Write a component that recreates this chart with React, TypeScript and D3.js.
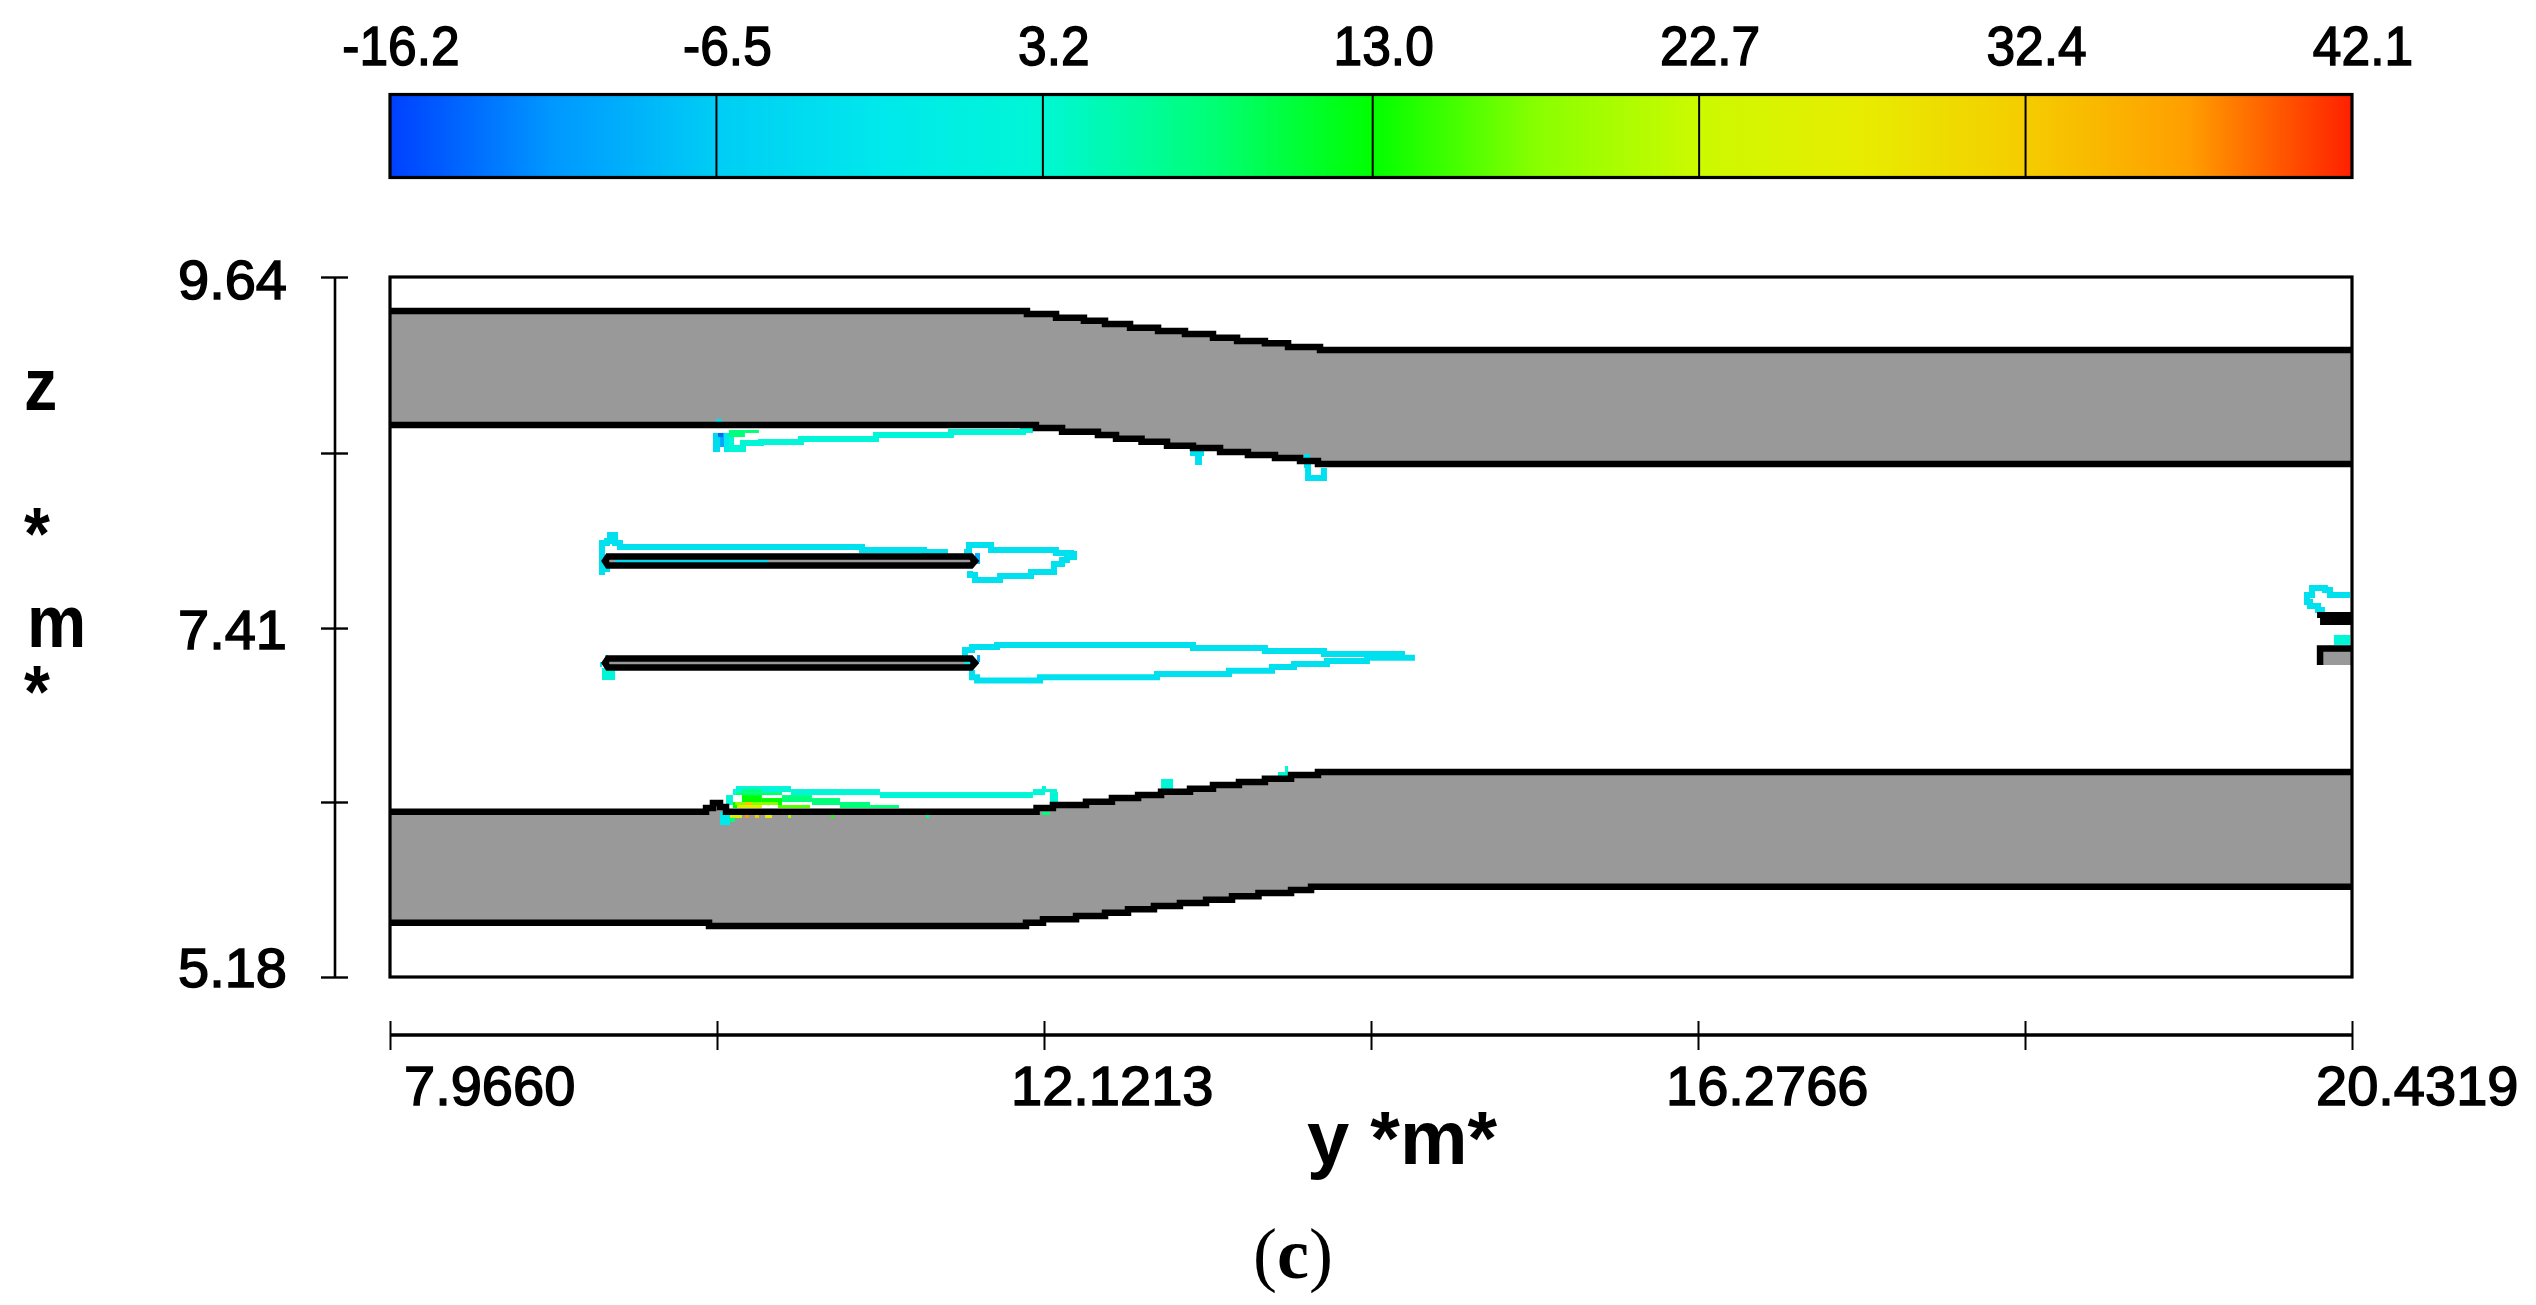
import * as d3 from 'd3';
import {useEffect, useRef} from 'react';

type Pt = [number, number];

const colorTicks = [-16.2, -6.5, 3.2, 13.0, 22.7, 32.4, 42.1];
const colorDomain = [-16.2, -11.35, -6.5, -1.65, 3.2, 8.1, 13, 17.85, 22.7, 27.55, 32.4, 37.25, 42.1];
const colorRange = ['#0040ff', '#0098ff', '#00cdf5', '#00e8ec', '#00f7d5', '#00ff78', '#00ff00', '#88ff00', '#ccfa00', '#e8ec00', '#f5cc00', '#ff9e00', '#ff2000'];

const yExtent = [7.966, 20.4319];
const zExtent = [5.2053, 9.64];
const yTicks = [7.966, 10.0437, 12.1213, 14.199, 16.2766, 18.3543, 20.4319];
const yTickLabels = [7.966, 12.1213, 16.2766, 20.4319];
const zTicks = [9.64, 8.525, 7.416, 6.314, 5.2053];
const zLabelTicks = [9.64, 7.416, 5.2053];
const zLabelTexts = ['9.64', '7.41', '5.18'];

// wall outlines, each point starts a flat run (step-after)
const upperWallTop: Pt[] = [[7.966, 9.425], [12.013, 9.406], [12.198, 9.382], [12.375, 9.363], [12.509, 9.342], [12.668, 9.319], [12.846, 9.298], [13.017, 9.279], [13.195, 9.255], [13.348, 9.234], [13.525, 9.22], [13.672, 9.196], [13.875, 9.177], [20.432, 9.177]];
const upperWallBottom: Pt[] = [[7.966, 8.702], [12.07, 8.683], [12.236, 8.66], [12.464, 8.639], [12.579, 8.616], [12.741, 8.597], [12.903, 8.571], [13.068, 8.557], [13.24, 8.531], [13.417, 8.512], [13.589, 8.493], [13.748, 8.474], [13.862, 8.455], [20.432, 8.455]];
const lowerWallTop: Pt[] = [[7.966, 6.253], [9.974, 6.276], [10.018, 6.308], [10.063, 6.282], [10.101, 6.253], [12.074, 6.276], [12.178, 6.295], [12.388, 6.316], [12.553, 6.339], [12.719, 6.358], [12.865, 6.379], [13.049, 6.398], [13.195, 6.422], [13.36, 6.441], [13.525, 6.462], [13.691, 6.485], [13.862, 6.504], [20.432, 6.504]];
const lowerWallBottom: Pt[] = [[7.966, 5.549], [9.993, 5.528], [12.007, 5.549], [12.115, 5.571], [12.325, 5.592], [12.509, 5.613], [12.655, 5.634], [12.82, 5.655], [12.985, 5.674], [13.151, 5.695], [13.316, 5.717], [13.484, 5.737], [13.691, 5.756], [13.818, 5.777], [20.432, 5.777]];

const plateUpper: Pt[] = [[9.351, 7.869], [11.658, 7.869], [11.683, 7.841], [11.658, 7.812], [9.351, 7.812], [9.332, 7.841]];
const plateLower: Pt[] = [[9.351, 7.223], [11.658, 7.223], [11.683, 7.195], [11.658, 7.166], [9.351, 7.166], [9.332, 7.195]];
const stubBlack: Pt[] = [[20.21, 7.518], [20.432, 7.518], [20.432, 7.435], [20.229, 7.435], [20.229, 7.48], [20.21, 7.48]];
const stubGray: Pt[] = [[20.229, 7.182], [20.229, 7.286], [20.432, 7.286], [20.432, 7.182]];
const stubEdge: Pt[] = [[20.229, 7.182], [20.229, 7.286], [20.432, 7.286]];

// iso-lines: value, then step-after points
const contourValues = [-3, -3, -3, 3, -3, -3];
const contourLines: Pt[][] = [
	[[9.332, 7.771], [9.313, 7.815], [9.313, 7.955], [9.345, 7.967], [9.364, 8.005], [9.396, 7.955], [9.427, 7.929], [10.965, 7.91], [11.359, 7.898], [11.511, 7.898]],
	[[11.613, 7.898], [11.645, 7.942], [11.785, 7.936], [11.785, 7.91], [12.197, 7.91], [12.197, 7.891], [12.293, 7.885], [12.312, 7.866], [12.267, 7.847], [12.236, 7.822], [12.185, 7.771], [12.039, 7.746], [11.842, 7.72], [11.683, 7.752], [11.651, 7.777]],
	[[11.6, 7.258], [11.619, 7.277], [11.664, 7.296], [11.823, 7.309], [13.068, 7.29], [13.525, 7.271], [13.9, 7.252], [14.396, 7.228], [14.478, 7.228], [14.173, 7.207], [13.919, 7.188], [13.71, 7.169], [13.57, 7.146], [13.297, 7.125], [12.839, 7.104], [12.096, 7.083], [11.696, 7.104], [11.664, 7.131], [11.645, 7.131]],
	[[10.139, 8.55], [10.209, 8.588], [10.323, 8.595], [10.577, 8.614], [11.054, 8.639], [11.53, 8.658], [11.988, 8.671], [12.051, 8.671]],
	[[13.811, 8.5], [13.792, 8.449], [13.799, 8.367], [13.9, 8.367], [13.9, 8.43]],
	[[20.419, 7.625], [20.292, 7.657], [20.26, 7.67], [20.178, 7.625], [20.146, 7.581], [20.165, 7.556], [20.216, 7.53], [20.26, 7.53]],
];

// solid patches of the flow field: y0, y1, z0, z1, value
const fieldCells: number[][] = [
	[10.018, 10.063, 8.531, 8.652, -4], [10.063, 10.088, 8.563, 8.652, -10], [10.05, 10.082, 8.626, 8.652, -14], [10.088, 10.12, 8.531, 8.652, -1],
	[10.12, 10.152, 8.531, 8.664, 3], [10.037, 10.075, 8.702, 8.74, -3], [10.075, 10.101, 8.702, 8.721, -2], [10.12, 10.221, 8.626, 8.671, 8],
	[10.221, 10.31, 8.652, 8.671, 8], [10.145, 10.209, 8.531, 8.576, 3], [13.049, 13.138, 8.506, 8.557, -3], [13.081, 13.125, 8.449, 8.506, -3],
	[9.396, 10.368, 7.828, 7.847, -4], [11.683, 11.715, 7.822, 7.891, -9], [11.696, 11.715, 7.201, 7.245, -9], [9.313, 9.396, 7.087, 7.163, 3],
	[9.3, 9.313, 7.169, 7.201, -1], [9.332, 9.351, 7.22, 7.245, 1], [11.613, 11.658, 7.188, 7.201, -1], [9.313, 9.364, 7.771, 7.815, -3],
	[10.164, 10.514, 6.377, 6.415, 3], [10.514, 11.079, 6.358, 6.396, 3], [11.079, 12.051, 6.339, 6.377, 3], [12.051, 12.128, 6.358, 6.396, 3],
	[12.128, 12.204, 6.377, 6.396, 3], [12.159, 12.21, 6.314, 6.377, 3], [12.108, 12.134, 6.396, 6.415, 3], [10.145, 10.164, 6.358, 6.396, 3],
	[10.101, 10.145, 6.295, 6.358, 3], [10.202, 10.329, 6.377, 6.396, 8], [10.164, 10.457, 6.358, 6.377, 8], [10.457, 10.647, 6.314, 6.358, 8],
	[10.647, 10.825, 6.295, 6.339, 8], [10.825, 11.016, 6.276, 6.314, 8], [11.016, 11.2, 6.276, 6.295, 8], [12.134, 12.172, 6.276, 6.295, 8],
	[12.108, 12.159, 6.232, 6.251, 8], [10.202, 10.329, 6.314, 6.358, 13], [10.329, 10.457, 6.295, 6.339, 13], [10.145, 10.202, 6.276, 6.314, 13],
	[10.158, 10.329, 6.295, 6.314, 18], [10.329, 10.431, 6.295, 6.314, 18], [10.431, 10.635, 6.276, 6.295, 16], [10.171, 10.329, 6.276, 6.295, 26],
	[10.221, 10.266, 6.295, 6.314, 33], [10.126, 10.202, 6.213, 6.232, 25], [10.221, 10.247, 6.213, 6.232, 37], [10.285, 10.31, 6.213, 6.232, 32],
	[10.349, 10.393, 6.213, 6.232, 27], [10.495, 10.514, 6.213, 6.232, 20], [10.768, 10.787, 6.213, 6.232, 14], [11.372, 11.391, 6.213, 6.232, 8],
	[10.063, 10.126, 6.168, 6.251, -1], [10.126, 10.158, 6.187, 6.213, 8], [12.865, 12.941, 6.396, 6.46, 3], [13.608, 13.672, 6.46, 6.504, 3],
	[13.653, 13.672, 6.504, 6.542, 3], [20.317, 20.419, 7.309, 7.372, 3],
];

const width = 2536;
const height = 1305;
const plot = {left: 390, right: 2352, top: 277, bottom: 977};
const bar = {top: 94.5, bottom: 177.5, labelY: 65, labelDx: 11};
const yLabelDx = [14, -33, -32, -36];
const zLabelDy = [22, 21, 10];
const sans = '"Liberation Sans", Arial, sans-serif';

export default function App() {
	const svgRef = useRef<SVGSVGElement>(null);

	useEffect(() => {
		const svg = d3.select(svgRef.current);
		svg.selectAll('*').remove();

		const y = d3.scaleLinear().domain(yExtent).range([plot.left, plot.right]);
		const z = d3.scaleLinear().domain(zExtent).range([plot.bottom, plot.top]);
		const barScale = d3.scaleLinear().domain([colorTicks[0], colorTicks[6]]).range([plot.left, plot.right]);
		const color = d3.scaleLinear<string>().domain(colorDomain).range(colorRange);

		const stepLine = d3.line<Pt>().x((d) => y(d[0])).y((d) => z(d[1])).curve(d3.curveStepAfter);
		const stepBack = d3.line<Pt>().x((d) => y(d[0])).y((d) => z(d[1])).curve(d3.curveStepBefore);
		const plainLine = d3.line<Pt>().x((d) => y(d[0])).y((d) => z(d[1]));
		const closedLine = d3.line<Pt>().x((d) => y(d[0])).y((d) => z(d[1])).curve(d3.curveLinearClosed);

		// colour bar
		const grad = svg.append('defs').append('linearGradient').attr('id', 'bar-grad');
		grad
			.selectAll('stop')
			.data(colorDomain)
			.join('stop')
			.attr('offset', (d) => (barScale(d) - plot.left) / (plot.right - plot.left))
			.attr('stop-color', (d) => color(d));

		svg
			.append('rect')
			.attr('x', barScale(colorTicks[0]))
			.attr('y', bar.top)
			.attr('width', plot.right - plot.left)
			.attr('height', bar.bottom - bar.top)
			.attr('fill', 'url(#bar-grad)')
			.attr('stroke', '#000')
			.attr('stroke-width', 3.2);

		svg
			.selectAll('.bar-div')
			.data(colorTicks.slice(1, -1))
			.join('line')
			.attr('class', 'bar-div')
			.attr('x1', (d) => barScale(d))
			.attr('x2', (d) => barScale(d))
			.attr('y1', bar.top)
			.attr('y2', bar.bottom)
			.attr('stroke', '#000')
			.attr('stroke-width', 2);

		svg
			.selectAll('.bar-label')
			.data(colorTicks)
			.join('text')
			.attr('class', 'bar-label')
			.attr('transform', (d) => `translate(${barScale(d) + bar.labelDx},${bar.labelY}) scale(0.92,1)`)
			.attr('text-anchor', 'middle')
			.style('font-family', sans)
			.style('font-size', '56px')
			.attr('stroke', '#000')
			.attr('stroke-width', 1.5)
			.text((d) => d.toFixed(1));

		// walls and plates
		const fillGroup = svg.append('g').attr('fill', '#999999');
		[
			[upperWallTop, upperWallBottom],
			[lowerWallTop, lowerWallBottom],
		].forEach(([top, bottom]) => {
			const back = stepBack([...bottom].reverse()) as string;
			fillGroup.append('path').attr('d', `${stepLine(top)}L${back.slice(1)}Z`);
		});
		fillGroup.append('path').attr('d', closedLine(plateUpper));
		fillGroup.append('path').attr('d', closedLine(plateLower));
		fillGroup.append('path').attr('d', closedLine(stubGray));

		// flow field on top of the fill, under the black outlines
		svg
			.append('g')
			.selectAll('rect')
			.data(fieldCells)
			.join('rect')
			.attr('x', (d) => y(d[0]))
			.attr('width', (d) => y(d[1]) - y(d[0]))
			.attr('y', (d) => z(d[3]))
			.attr('height', (d) => z(d[2]) - z(d[3]))
			.attr('fill', (d) => color(d[4]));

		svg
			.append('g')
			.attr('fill', 'none')
			.attr('stroke-width', 6)
			.selectAll('path')
			.data(contourLines)
			.join('path')
			.attr('d', (d) => stepLine(d))
			.attr('stroke', (_, i) => color(contourValues[i]));

		const outlines = svg.append('g').attr('fill', 'none').attr('stroke', '#000').attr('stroke-width', 6.5);
		[upperWallTop, upperWallBottom, lowerWallTop, lowerWallBottom].forEach((wall) => {
			outlines.append('path').attr('d', stepLine(wall));
		});
		outlines.append('path').attr('d', closedLine(plateUpper));
		outlines.append('path').attr('d', closedLine(plateLower));
		outlines.append('path').attr('d', plainLine(stubEdge));
		svg.append('path').attr('d', closedLine(stubBlack)).attr('fill', '#000');

		// frame
		svg
			.append('rect')
			.attr('x', plot.left)
			.attr('y', plot.top)
			.attr('width', plot.right - plot.left)
			.attr('height', plot.bottom - plot.top)
			.attr('fill', 'none')
			.attr('stroke', '#000')
			.attr('stroke-width', 3.2);

		// detached axes
		const xAxis = svg
			.append('g')
			.attr('transform', 'translate(0,1021)')
			.call(
				d3
					.axisBottom(y)
					.tickValues(yTicks)
					.tickSize(29)
					.tickFormat(() => ''),
			);
		xAxis.select('.domain').remove();
		xAxis.selectAll('line').attr('stroke', '#000').attr('stroke-width', 2);
		svg
			.append('line')
			.attr('x1', plot.left)
			.attr('x2', plot.right)
			.attr('y1', 1035)
			.attr('y2', 1035)
			.attr('stroke', '#000')
			.attr('stroke-width', 3.6);

		const zAxis = svg
			.append('g')
			.attr('transform', 'translate(348,0)')
			.call(
				d3
					.axisLeft(z)
					.tickValues(zTicks)
					.tickSize(27)
					.tickFormat(() => ''),
			);
		zAxis.select('.domain').remove();
		zAxis.selectAll('line').attr('stroke', '#000').attr('stroke-width', 2.4);
		svg
			.append('line')
			.attr('x1', 335)
			.attr('x2', 335)
			.attr('y1', plot.top)
			.attr('y2', plot.bottom)
			.attr('stroke', '#000')
			.attr('stroke-width', 2.6);

		svg
			.selectAll('.y-label')
			.data(yTickLabels)
			.join('text')
			.attr('class', 'y-label')
			.attr('x', (d, i) => y(d) + yLabelDx[i])
			.attr('y', 1105)
			.style('font-family', sans)
			.style('font-size', '56px')
			.attr('stroke', '#000')
			.attr('stroke-width', 1.5)
			.text((d) => d.toFixed(4));

		svg
			.selectAll('.z-label')
			.data(zLabelTicks)
			.join('text')
			.attr('class', 'z-label')
			.attr('x', 287)
			.attr('y', (d, i) => z(d) + zLabelDy[i])
			.attr('text-anchor', 'end')
			.style('font-family', sans)
			.style('font-size', '56px')
			.attr('stroke', '#000')
			.attr('stroke-width', 1.5)
			.text((_, i) => zLabelTexts[i]);

		// axis titles
		svg
			.append('text')
			.attr('x', 1402)
			.attr('y', 1164)
			.attr('text-anchor', 'middle')
			.style('font-family', sans)
			.style('font-weight', 700)
			.style('font-size', '76px')
			.text('y *m*');

		const zTitle = [
			{ch: 'z', x: 24, y: 410},
			{ch: '*', x: 24, y: 559},
			{ch: 'm', x: 27, y: 647},
			{ch: '*', x: 24, y: 717},
		];
		svg
			.selectAll('.z-title')
			.data(zTitle)
			.join('text')
			.attr('class', 'z-title')
			.attr('transform', (d) => `translate(${d.x},${d.y}) scale(0.9,1)`)
			.style('font-family', sans)
			.style('font-weight', 700)
			.style('font-size', '74px')
			.text((d) => d.ch);

		const caption = svg
			.append('text')
			.attr('x', 1293)
			.attr('y', 1278)
			.attr('text-anchor', 'middle')
			.style('font-family', '"Liberation Serif", serif')
			.style('font-size', '72px');
		caption.append('tspan').text('(');
		caption.append('tspan').style('font-weight', 700).text('c');
		caption.append('tspan').text(')');
	}, []);

	return <svg ref={svgRef} width={width} height={height} style={{position: 'absolute', left: 0, top: 0, background: '#fff'}} />;
}
